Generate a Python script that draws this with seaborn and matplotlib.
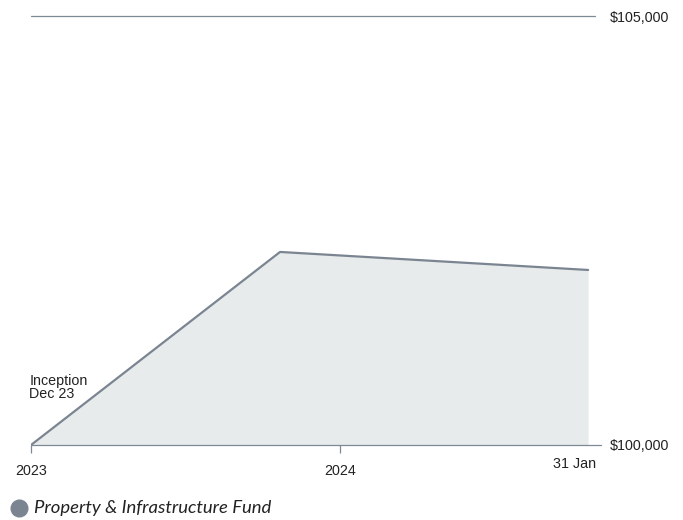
import matplotlib
matplotlib.use("Agg")
import matplotlib.pyplot as plt
import seaborn as sns
import pandas as pd
from matplotlib.lines import Line2D

sns.set_theme(style="white")
plt.rcParams['font.family'] = ['Liberation Sans', 'DejaVu Sans']

# Data (x = position in years from first tick; 2024 tick at 1.0)
positions = [0.0, 0.806, 1.803]
values = [100000, 102250, 102040]
x_tick_pos = [0.0, 1.0]
x_tick_labels = ["2023", "2024"]
end_label = "31 Jan"
y_ticks = [100000, 105000]
y_tick_labels = ["$100,000", "$105,000"]
series_name = "Property & Infrastructure Fund"

line_color = "#7b8591"
fill_color = "#e8ebec"

df = pd.DataFrame({"x": positions, "value": values})

fig = plt.figure(figsize=(6.83, 5.20), dpi=100)
ax = fig.add_axes([31/683, 75/520, (595-31)/683, (445-16)/520])

ax.fill_between(df["x"], 100000, df["value"], color=fill_color, lw=0, zorder=1)
sns.lineplot(data=df, x="x", y="value", ax=ax, color=line_color, linewidth=1.6, zorder=3)

ax.set_xlim(0, (595-31)/309)
ax.set_ylim(100000, 105000)

# gridlines
ax.axhline(105000, color="#7d8a96", lw=0.9, clip_on=False, zorder=2)
ax.axhline(100000, xmax=1.01, color="#7d8a96", lw=0.9, clip_on=False, zorder=2)

for s in ax.spines.values():
    s.set_visible(False)

ax.set_xlabel("")
ax.set_ylabel("")
ax.set_xticks(x_tick_pos)
ax.set_xticklabels(x_tick_labels, fontsize=10.3, color="#222222")
ax.tick_params(axis="x", length=6, width=0.9, color="#7d8a96", pad=8, bottom=True)
ax.yaxis.tick_right()
ax.set_yticks(y_ticks)
ax.set_yticklabels(y_tick_labels, fontsize=10.3, color="#222222")
ax.tick_params(axis="y", length=0, pad=11)

ax.text(1.83, 99780, end_label, ha="right", va="center", fontsize=10.3, color="#222222")
ax.text(-0.005, 100670, "Inception\nDec 23", ha="left", va="center", fontsize=10.3,
        color="#222222", linespacing=0.85)

fig.add_artist(Line2D([19/683], [(520-508)/520], marker="o", linestyle="none", markersize=12,
                      markerfacecolor=line_color, markeredgecolor=line_color,
                      transform=fig.transFigure))
fig.text(34/683, (520-508)/520, series_name, ha="left", va="center",
         family="Lato", style="italic", fontsize=13.3, color="#222222")

fig.savefig("out.png", dpi=100)
